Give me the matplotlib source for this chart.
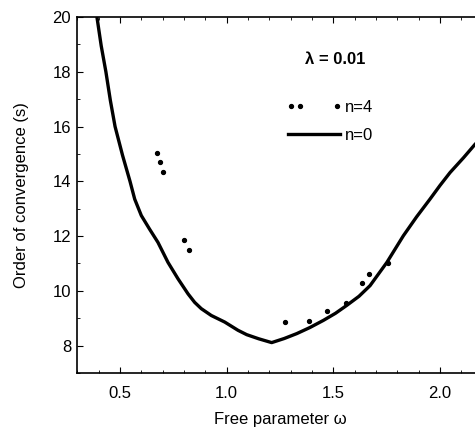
import matplotlib
matplotlib.use("Agg")
import matplotlib.pyplot as plt
import numpy as np
from matplotlib.lines import Line2D
from matplotlib.legend_handler import HandlerLine2D
from matplotlib.ticker import MultipleLocator
from matplotlib.transforms import IdentityTransform

plt.rcParams['font.family'] = ['Liberation Sans', 'DejaVu Sans']

# n=0 curve (solid line)
w_n0 = [0.392, 0.412, 0.434, 0.455, 0.477, 0.512, 0.547, 0.569, 0.600, 0.639, 0.678,
        0.725, 0.772, 0.819, 0.850, 0.881, 0.928, 0.991, 1.053, 1.094, 1.150, 1.211,
        1.270, 1.329, 1.390, 1.453, 1.510, 1.563, 1.620, 1.672, 1.751, 1.828, 1.890,
        1.953, 2.000, 2.047, 2.110, 2.164, 2.200]
s_n0 = [20.0, 18.95, 18.0, 16.95, 16.0, 14.95, 14.0, 13.35, 12.75, 12.25, 11.77,
        11.04, 10.44, 9.89, 9.58, 9.35, 9.10, 8.86, 8.56, 8.40, 8.25, 8.11,
        8.26, 8.44, 8.66, 8.92, 9.18, 9.47, 9.80, 10.19, 11.04, 12.01, 12.70,
        13.35, 13.85, 14.32, 14.86, 15.35, 15.65]

# n=4 points (dots)
w_n4 = [0.674, 0.688, 0.702, 0.80, 0.824, 1.275, 1.387, 1.472, 1.557, 1.632, 1.665, 1.754]
s_n4 = [15.05, 14.7, 14.33, 11.85, 11.5, 8.87, 8.9, 9.27, 9.56, 10.29, 10.62, 11.0]

xticks = [0.5, 1.0, 1.5, 2.0]
xticklabels = ["0.5", "1.0", "1.5", "2.0"]
yticks = [8, 10, 12, 14, 16, 18, 20]

FS = 12

fig = plt.figure(figsize=(4.75, 4.3), dpi=100)
ax = fig.add_axes([77.3 / 475, 57 / 430, 405.4 / 475, 356 / 430])

ax.plot(w_n0, s_n0, color='black', lw=2.4, solid_capstyle='butt', solid_joinstyle='round')
ax.plot(w_n4, s_n4, linestyle='none', marker='o', ms=2.8, color='black')

ax.set_xlim(0.3, 2.2)
ax.set_ylim(7, 20)
ax.set_xticks(xticks)
ax.set_xticklabels(xticklabels)
ax.set_yticks(yticks)
ax.xaxis.set_minor_locator(MultipleLocator(0.1))
ax.yaxis.set_minor_locator(MultipleLocator(1))
ax.tick_params(axis='x', which='both', direction='in', top=True, labelsize=FS, pad=9)
ax.tick_params(axis='x', which='major', length=4)
ax.tick_params(axis='x', which='minor', length=2)
ax.tick_params(axis='y', which='both', direction='in', labelsize=FS, pad=4.5)
ax.tick_params(axis='y', which='major', length=4)
ax.tick_params(axis='y', which='minor', length=2)
ax.spines['right'].set_visible(False)
for sp in ['left', 'bottom', 'top']:
    ax.spines[sp].set_linewidth(1.2)

ax.set_xlabel("Free parameter ω", fontsize=FS, labelpad=8.5)
ax.set_ylabel("Order of convergence (s)", fontsize=FS, labelpad=17)

ax.text(305, 430 - 60, "λ = 0.01", transform=IdentityTransform(), fontsize=FS,
        fontweight='bold', ha='left', va='center')


class DotHandler(HandlerLine2D):
    def get_xdata(self, legend, xdescent, ydescent, width, height, fontsize):
        xs = np.array([0.06, 0.23, 0.94]) * width - xdescent
        return xs, xs


class FullLineHandler(HandlerLine2D):
    def get_xdata(self, legend, xdescent, ydescent, width, height, fontsize):
        xs = np.array([0.0, 0.5, 1.0]) * width - xdescent
        return xs, xs


h4 = Line2D([], [], linestyle='none', marker='o', ms=2.8, color='black')
h0 = Line2D([], [], color='black', lw=2.4)
leg = ax.legend([h4, h0], ["n=4", "n=0"], loc='upper left',
                bbox_to_anchor=(288, 430 - 100), bbox_transform=IdentityTransform(),
                frameon=False, fontsize=FS, handlelength=3.1, numpoints=3,
                handletextpad=0.3, labelspacing=0.8, borderpad=0,
                borderaxespad=0,
                handler_map={h4: DotHandler(), h0: FullLineHandler()})

fig.savefig("out.png", dpi=100)
